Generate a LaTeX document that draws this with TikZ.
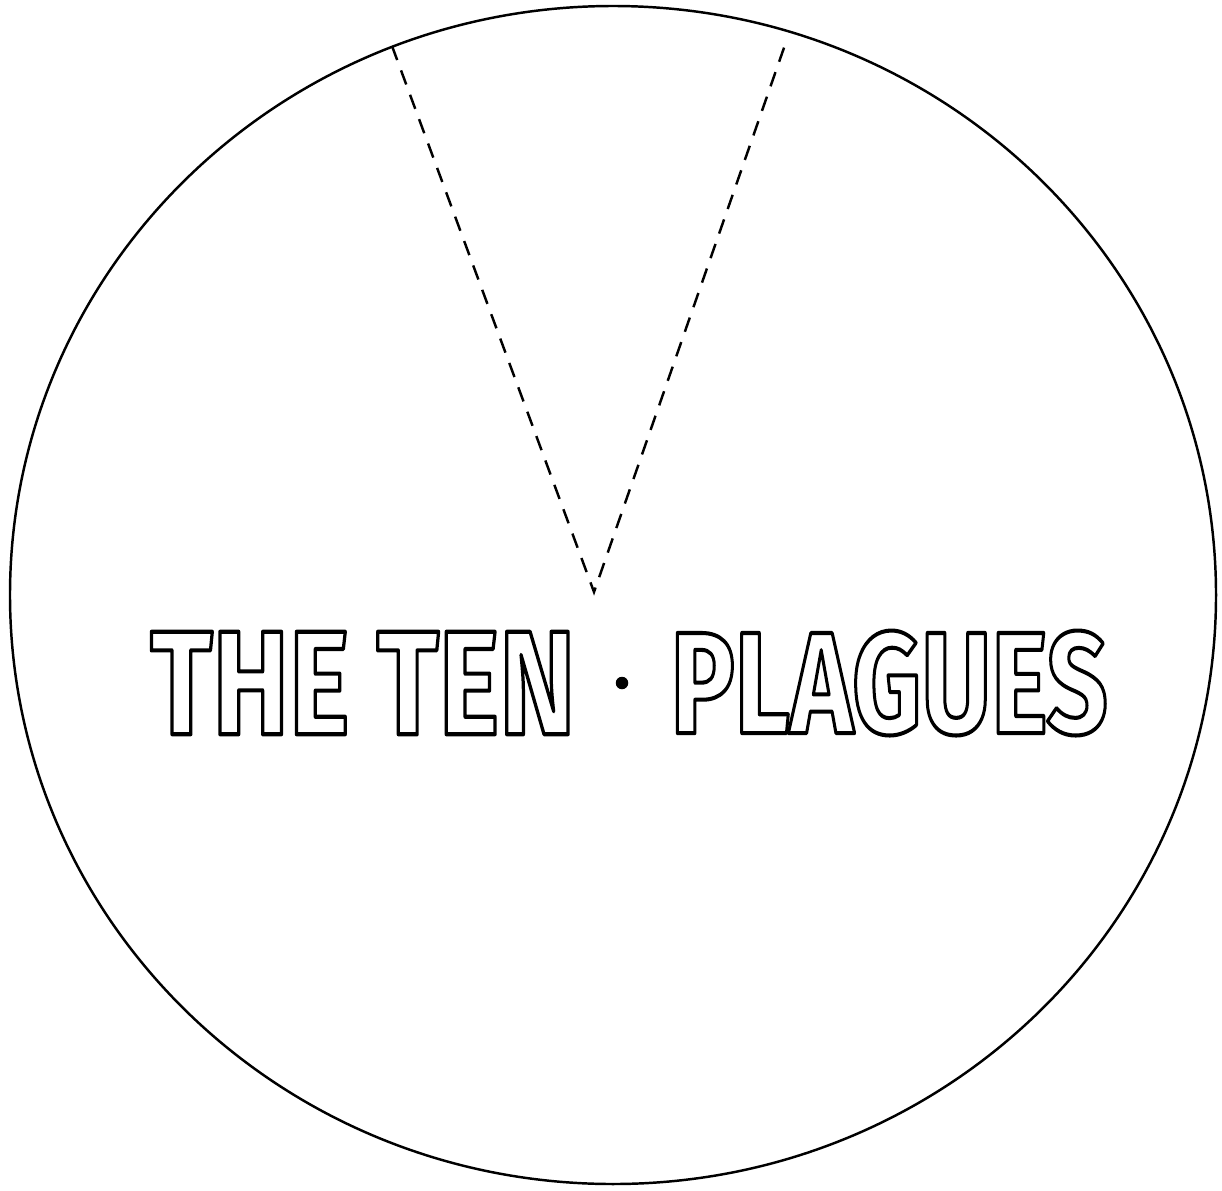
\documentclass[tikz,border=0pt]{standalone}
\usepackage{fontspec}
\setmainfont{Fira Sans}
\usepackage{graphicx}
\usetikzlibrary{positioning}

\newcommand{\hollow}[3]{\resizebox{#1}{#2}{\special{pdf:literal direct 1 Tr 0.28 w 1 j}#3\special{pdf:literal direct 0 Tr}}}

\begin{document}
\begin{tikzpicture}[
    x=0.02cm, y=-0.02cm,
    rim/.style={
        draw,
        line width=1.4pt
    },
    cut/.style={
        line width=1.4pt,
        dash pattern=on 0.3cm off 0.22cm
    },
    title/.style={
        inner sep=0pt,
        font=\bfseries
    }
]
\useasboundingbox (0,0) rectangle (1222,1190);

% the disc
\draw[rim] (613,595) ellipse [x radius=603, y radius=589];

% the wedge to cut out
\coordinate (apex) at (594,592);
\coordinate (wl) at (392,46);
\coordinate (wr) at (786,42);
\draw[cut] (wl) -- (apex) -- (wr);

% title
\node[title, anchor=west] (the) at (150,683) {\hollow{8.5cm}{2.05cm}{THE TEN}};
\node[circle, fill, inner sep=0pt, minimum size=0.25cm] (pin) at (622,683) {};
\node[title, anchor=west] (plagues) at (670,683) {\hollow{8.75cm}{2.05cm}{PLAGUES}};

\end{tikzpicture}
\end{document}
